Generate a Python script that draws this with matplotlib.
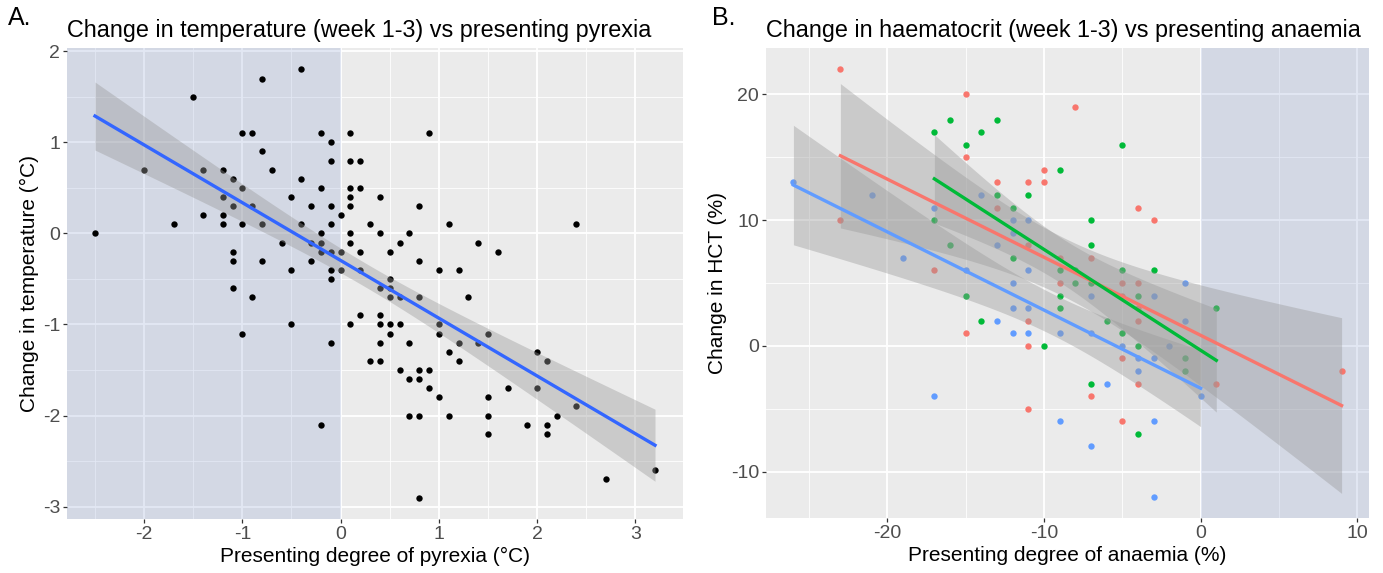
import numpy as np
import matplotlib.pyplot as plt
from matplotlib.ticker import MultipleLocator

plt.rcParams["font.family"] = ["Liberation Sans", "DejaVu Sans"]
plt.rcParams["axes.unicode_minus"] = False

# Panel A: presenting pyrexia (°C) vs change in temperature (°C)
pyrexia = [
    -2.5, -1.5, -0.8, -0.4, -1.0, -0.9, -0.8, -0.2, -0.1, 0.1, -0.1, 0.1, 0.2,
    -2.0, -1.4, -1.2, -0.7, -1.1, -0.4, -1.0, -0.2, 0.1, 0.2, -1.2, -0.5, 0.1,
    -1.1, -0.9, -0.3, -0.1, 0.1, 0.0, -1.4, -1.2, -1.2, -1.7, -1.0, -0.8, -0.4,
    -0.1, -0.2, 0.1, -0.6, -0.3, -0.2, 0.1, -1.1, -0.2, -0.1, 0.0, 0.2, -1.1,
    -0.8, -0.3, -0.5, -0.1, 0.0, -0.1, -1.1, -0.9, -1.0, -0.5, -0.1, 0.1, 0.2,
    -0.2, 0.9, 0.4, 0.8, 0.3, 1.1, 2.4, 0.4, 0.7, 0.6, 1.4, 0.5, 1.6, 0.8, 1.0,
    1.2, 0.2, 0.5, 0.4, 0.5, 0.5, 0.6, 0.8, 1.3, 0.4, 0.4, 0.5, 0.6, 1.0, 0.5,
    1.0, 0.4, 0.7, 1.2, 1.4, 1.1, 1.5, 2.0, 2.1, 0.3, 0.4, 1.2, 0.6, 0.8, 0.9,
    0.7, 0.8, 0.9, 1.7, 2.0, 1.0, 1.5, 2.4, 0.7, 0.8, 1.1, 1.5, 2.2, 1.9, 2.1,
    1.5, 2.1, 3.2, 2.7, 0.8,
]
temp_change = [
    0.0, 1.5, 1.7, 1.8, 1.1, 1.1, 0.9, 1.1, 1.0, 1.1, 0.8, 0.8, 0.8,
    0.7, 0.7, 0.7, 0.7, 0.6, 0.6, 0.5, 0.5, 0.5, 0.5, 0.4, 0.4, 0.4,
    0.3, 0.3, 0.3, 0.3, 0.3, 0.2, 0.2, 0.2, 0.1, 0.1, 0.1, 0.1, 0.1,
    0.1, 0.0, 0.0, -0.1, -0.1, -0.1, -0.1, -0.2, -0.2, -0.2, -0.2, -0.2, -0.3,
    -0.3, -0.3, -0.4, -0.4, -0.4, -0.5, -0.6, -0.7, -1.1, -1.0, -1.2, -1.0, -0.9,
    -2.1, 1.1, 0.4, 0.3, 0.1, 0.1, 0.1, 0.0, 0.0, -0.1, -0.1, -0.2, -0.2, -0.3, -0.4,
    -0.4, -0.4, -0.5, -0.6, -0.6, -0.7, -0.7, -0.7, -0.7, -0.9, -1.0, -1.0, -1.0, -1.0, -1.1,
    -1.1, -1.2, -1.2, -1.2, -1.2, -1.3, -1.1, -1.3, -1.4, -1.4, -1.4, -1.4, -1.5, -1.5, -1.5,
    -1.6, -1.6, -1.7, -1.7, -1.7, -1.8, -1.8, -1.9, -2.0, -2.0, -2.0, -2.0, -2.0, -2.1, -2.1,
    -2.2, -2.2, -2.6, -2.7, -2.9,
]

# Panel B: presenting anaemia (%) vs change in HCT (%), three groups
red_anaemia = [-23, -23, -17, -15, -15, -13, -13, -11, -11, -10, -10, -9, -9, -11,
               -15, -11, -11, -8, -4, -3, -7, -5, -4, -5, -4, -4, -5, 9, -4, 1,
               -7, -5]
red_hct = [22, 10, 6, 20, 15, 13, 11, 13, 8, 14, 13, 7, 5, 2,
           1, 0, -5, 19, 11, 10, 7, 5, 5, 4, 3, 2, -1, -2, -3, -3,
           -4, -6]
green_anaemia = [-17, -17, -16, -16, -15, -14, -13, -13, -12, -12, -11, -9, -9, -15,
                 -9, -9, -14, -10, -5, -7, -7, -8, -5, -3, -8, -7, -4, 1, -6, -5,
                 -4, -1, -1, -7, -4]
green_hct = [10, 17, 18, 8, 16, 17, 18, 12, 11, 7, 12, 14, 6, 4,
             4, 3, 2, 0, 16, 10, 8, 6, 6, 6, 5, 5, 4, 3, 2, 1,
             0, -1, -2, -3, -7]
blue_anaemia = [-26, -21, -19, -17, -15, -14, -13, -12, -12, -11, -11, -12, -12, -11,
                -13, -12, -11, -9, -17, -9, -1, -7, -3, -1, -7, -5, -2, -4, -3, -4,
                -6, 0, -3, -7, -3]
blue_hct = [13, 12, 7, 11, 6, 12, 8, 10, 9, 10, 6, 5, 3, 3,
            2, 1, 1, 1, -4, -6, 5, 4, 4, 2, 1, 0, 0, -1, -1, -2,
            -3, -4, -6, -8, -12]

groups = [
    (red_anaemia, red_hct, "#F8766D"),
    (green_anaemia, green_hct, "#00BA38"),
    (blue_anaemia, blue_hct, "#619CFF"),
]


def t_quantile(df, z=1.959964):
    # series expansion of the 97.5% t quantile
    return (z + (z**3 + z) / (4 * df) + (5 * z**5 + 16 * z**3 + 3 * z) / (96 * df**2)
            + (3 * z**7 + 19 * z**5 + 17 * z**3 - 15 * z) / (384 * df**3))


def smooth_lm(ax, x, y, color):
    x = np.asarray(x, float)
    y = np.asarray(y, float)
    n = len(x)
    slope, intercept = np.polyfit(x, y, 1)
    resid = y - (slope * x + intercept)
    s = np.sqrt(np.sum(resid**2) / (n - 2))
    sxx = np.sum((x - x.mean())**2)
    xs = np.linspace(x.min(), x.max(), 80)
    fit = slope * xs + intercept
    se = s * np.sqrt(1 / n + (xs - x.mean())**2 / sxx)
    t = t_quantile(n - 2)
    ax.fill_between(xs, fit - t * se, fit + t * se, color="#999999", alpha=0.4,
                    linewidth=0, zorder=3)
    ax.plot(xs, fit, color=color, linewidth=2.4, zorder=4)


def gg_axes(ax, xmajor, ymajor):
    ax.set_facecolor("#EBEBEB")
    ax.xaxis.set_major_locator(MultipleLocator(xmajor))
    ax.xaxis.set_minor_locator(MultipleLocator(xmajor / 2))
    ax.yaxis.set_major_locator(MultipleLocator(ymajor))
    ax.yaxis.set_minor_locator(MultipleLocator(ymajor / 2))
    ax.grid(which="major", color="white", linewidth=1.3)
    ax.grid(which="minor", color="white", linewidth=0.6)
    ax.set_axisbelow(True)
    for sp in ax.spines.values():
        sp.set_visible(False)
    ax.tick_params(which="major", length=3, width=0.9, color="#333333",
                   labelsize=14, labelcolor="#4D4D4D", pad=2)
    ax.tick_params(which="minor", length=0)


def expand(vals, frac=0.05):
    lo, hi = min(vals), max(vals)
    pad = (hi - lo) * frac
    return lo - pad, hi + pad


fig = plt.figure(figsize=(13.83, 5.73), dpi=100)

# ---- Panel A ----
axA = fig.add_axes([67 / 1383, 54 / 573, 616 / 1383, 471 / 573])
gg_axes(axA, 1, 1)
xlim = expand(pyrexia)
ylim = expand(temp_change)
axA.set_xlim(xlim)
axA.set_ylim(ylim)
axA.axvspan(xlim[0], 0, color="#738CC8", alpha=0.2, linewidth=0, zorder=0.8)
axA.scatter(pyrexia, temp_change, s=21, color="black", linewidths=0, zorder=2)
smooth_lm(axA, pyrexia, temp_change, "#3366FF")
axA.set_xlabel("Presenting degree of pyrexia (°C)", fontsize=15, labelpad=3)
axA.set_ylabel("Change in temperature (°C)", fontsize=15, labelpad=3)
axA.set_title("Change in temperature (week 1-3) vs presenting pyrexia",
              loc="left", fontsize=16.8, pad=8)
fig.text(8 / 1383, 1 - 18 / 573, "A.", fontsize=18, va="center", ha="left")

# ---- Panel B ----
axB = fig.add_axes([766 / 1383, 55 / 573, 603 / 1383, 470 / 573])
gg_axes(axB, 10, 10)
all_x = red_anaemia + green_anaemia + blue_anaemia
all_y = red_hct + green_hct + blue_hct
xlim = expand(all_x)
ylim = expand(all_y)
axB.set_xlim(xlim)
axB.set_ylim(ylim)
axB.axvspan(0, xlim[1], color="#738CC8", alpha=0.2, linewidth=0, zorder=0.8)
for gx, gy, col in groups:
    axB.scatter(gx, gy, s=21, color=col, linewidths=0, zorder=2)
for gx, gy, col in groups:
    smooth_lm(axB, gx, gy, col)
axB.set_xlabel("Presenting degree of anaemia (%)", fontsize=15, labelpad=3)
axB.set_ylabel("Change in HCT (%)", fontsize=15, labelpad=3)
axB.set_title("Change in haematocrit (week 1-3) vs presenting anaemia",
              loc="left", fontsize=16.8, pad=8)
fig.text(712 / 1383, 1 - 18 / 573, "B.", fontsize=18, va="center", ha="left")

fig.savefig("out.png", dpi=100, facecolor="white")
